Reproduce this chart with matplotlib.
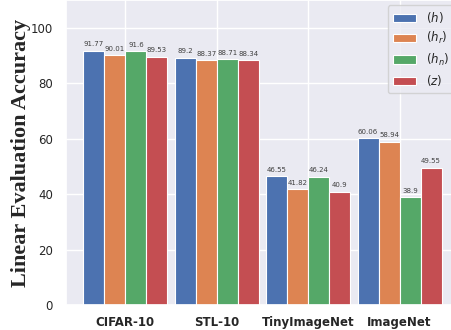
import matplotlib
matplotlib.use("Agg")
import matplotlib.pyplot as plt
import numpy as np
import seaborn as sns

sns.set_theme(style="darkgrid")

datasets = ["CIFAR-10", "STL-10", "TinyImageNet", "ImageNet"]
series_labels = ["$(h)$", "$(h_r)$", "$(h_n)$", "$(z)$"]
h_vals = [91.77, 89.2, 46.55, 60.06]
hr_vals = [90.01, 88.37, 41.82, 58.94]
hn_vals = [91.6, 88.71, 46.24, 38.9]
z_vals = [89.53, 88.34, 40.9, 49.55]
series = [h_vals, hr_vals, hn_vals, z_vals]
colors = ["#4C72B0", "#DD8452", "#55A868", "#C44E52"]

fig = plt.figure(figsize=(4.52, 3.30), dpi=100)
ax = fig.add_axes([66/452, 25/330, 393/452, 305/330])

x = np.arange(len(datasets))
w = 0.23
for i, (vals, lab, c) in enumerate(zip(series, series_labels, colors)):
    pos = x + (i - 1.5) * w
    bars = ax.bar(pos, vals, w, label=lab, color=c, edgecolor="white", linewidth=0.8)
    for b, v in zip(bars, vals):
        ax.text(b.get_x() + b.get_width() / 2, v + 1.2, f"{v}", ha="center",
                va="bottom", fontsize=5, color="#404040")

ax.set_ylim(0, 110)
ax.set_xlim(-0.65, 3.65)
ax.set_yticks([0, 20, 40, 60, 80, 100])
ax.set_xticks(x)
ax.set_xticklabels(datasets, fontweight="bold", fontsize=8.5)
ax.tick_params(axis="x", pad=2)
ax.tick_params(axis="y", labelsize=8.5)
ax.set_ylabel("Linear Evaluation Accuracy", family="Liberation Serif",
              fontweight="bold", fontsize=16, labelpad=0)
ax.legend(loc="upper right", fontsize=8.5, labelspacing=0.45, borderaxespad=0.45)

fig.savefig("out.png", dpi=100)
